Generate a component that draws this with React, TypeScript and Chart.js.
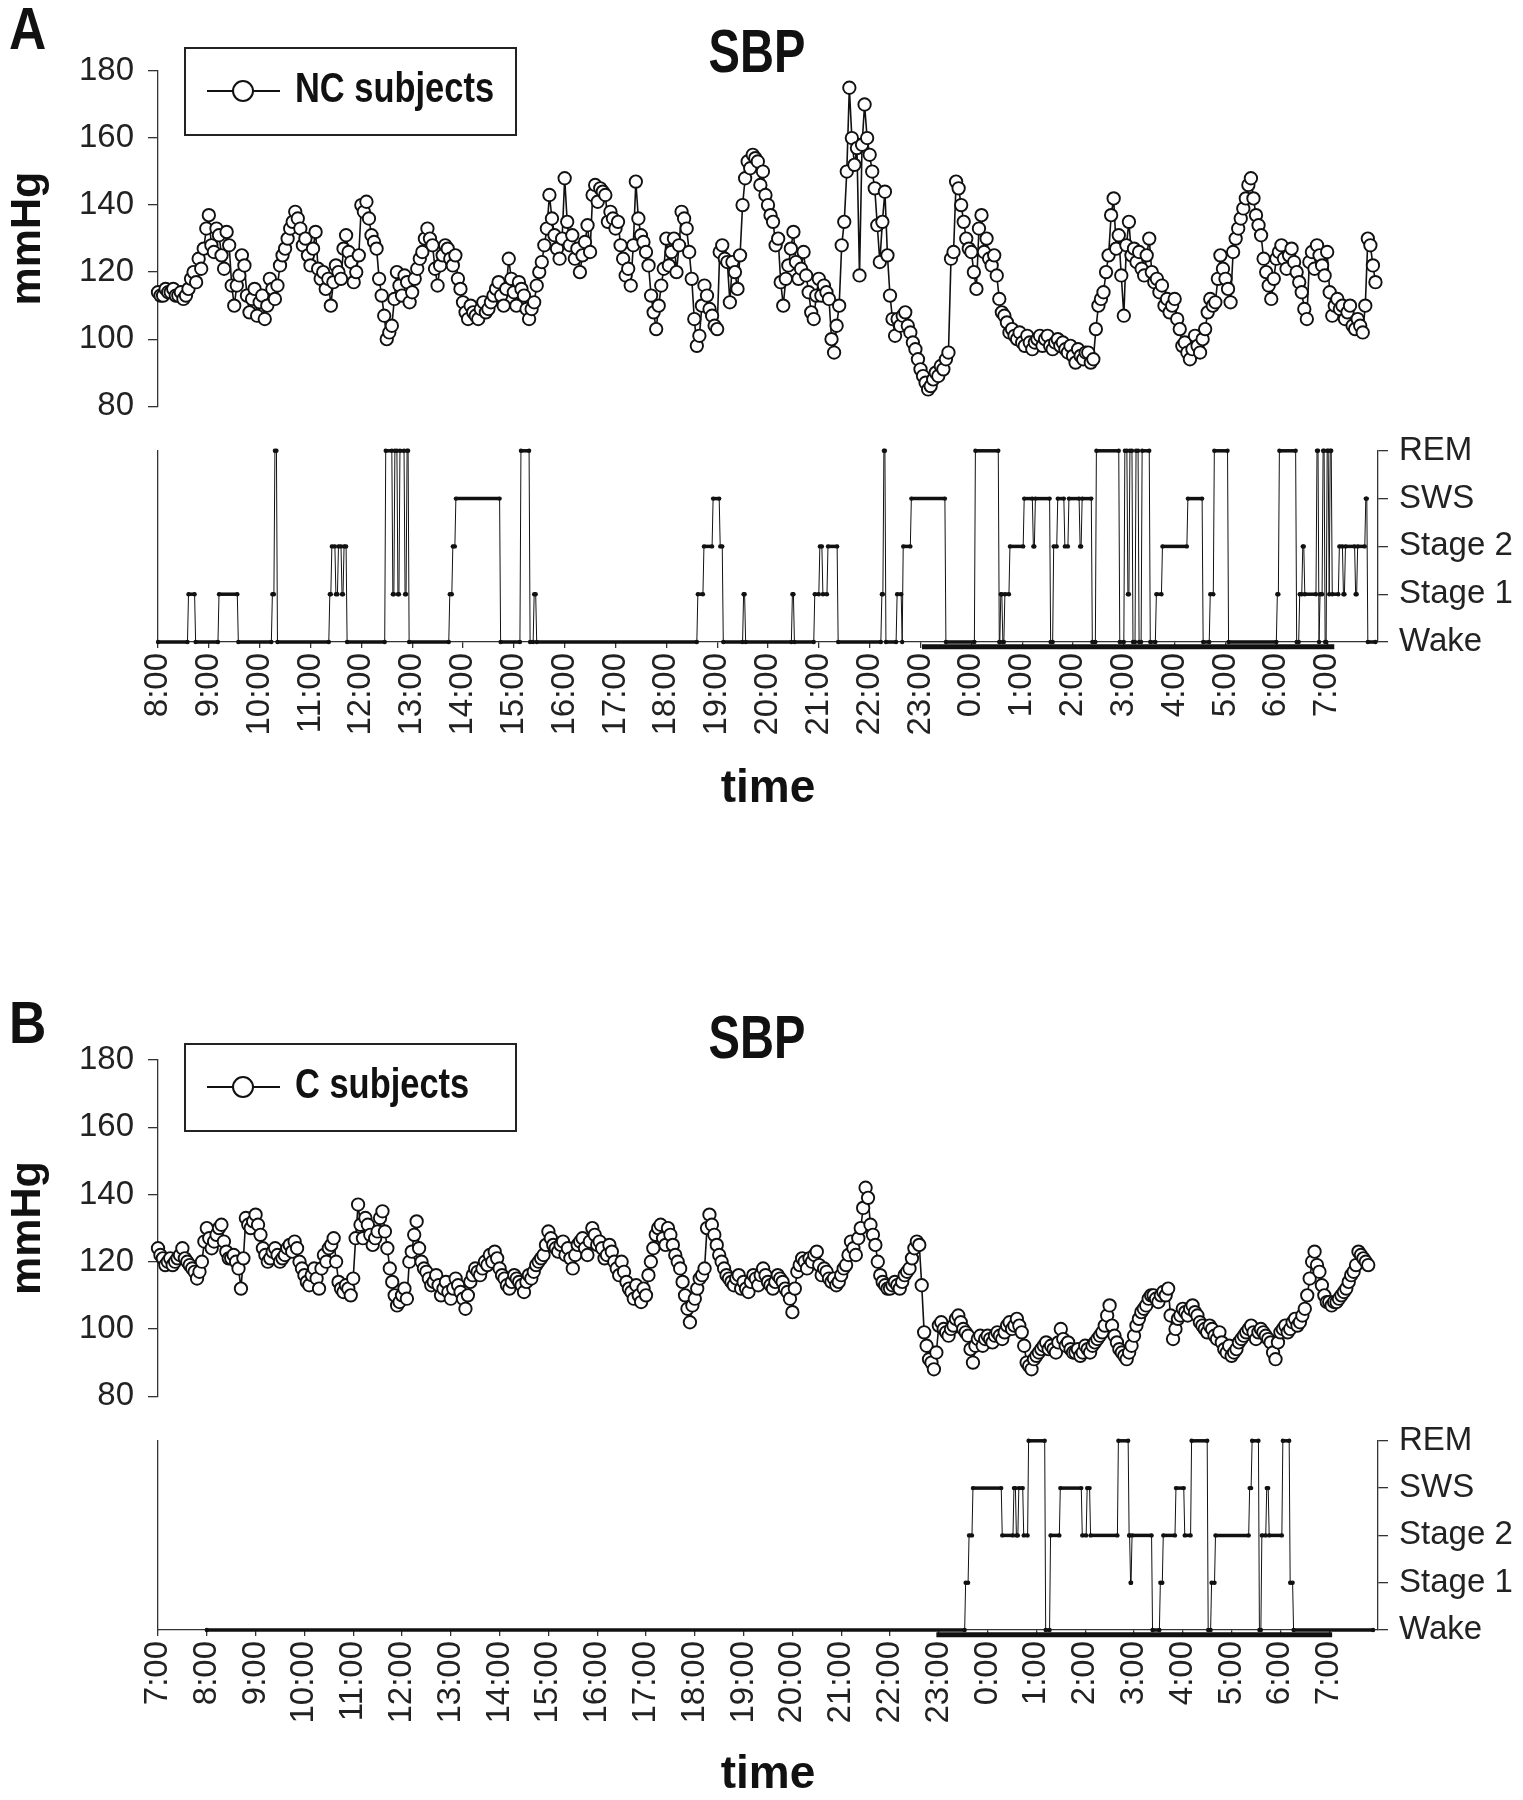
import React, { useEffect, useRef } from "react";
import { Chart, registerables } from "chart.js";

Chart.register(...registerables);

const W = 1523;
const LEFT = 158;
const RIGHT = 1378;
const FONT = "'Liberation Sans', Arial, sans-serif";
const NARROW = "'Liberation Sans Narrow', 'Arial Narrow', 'Liberation Sans', Arial, sans-serif";
const INK = "#111";
const AXIS = "#333";
const TEXT = "#222";

// sampling interval of the blood-pressure series (hours)
const STEP = 0.05;

// ---------- Panel A (NC subjects), time axis starts 8:00 ----------
const hoursA = ["8:00","9:00","10:00","11:00","12:00","13:00","14:00","15:00","16:00","17:00","18:00","19:00","20:00","21:00","22:00","23:00","0:00","1:00","2:00","3:00","4:00","5:00","6:00","7:00"];
const sbpA = [
  114,113,113,115,114,114,115,113,113,114,112,113,115,118,120,117,124,121,127,133,
  137,128,126,133,131,125,121,132,128,116,110,116,119,125,122,113,108,112,115,107,
  111,113,106,110,118,115,112,116,122,125,127,130,133,135,138,136,133,128,130,125,
  122,127,132,121,118,120,115,118,110,117,122,120,118,127,131,126,123,117,120,125,
  140,138,141,136,131,129,127,118,113,107,100,102,104,112,120,116,113,119,117,111,
  114,118,121,124,126,130,133,130,128,121,116,122,125,128,127,124,122,125,118,115,
  111,108,106,110,108,107,106,109,111,108,109,111,113,115,117,113,110,115,124,118,
  114,110,117,115,113,109,106,109,111,116,120,123,128,133,143,136,131,127,124,130,
  148,135,128,131,124,127,120,125,129,134,126,143,146,141,145,144,143,135,138,136,
  133,135,128,124,119,121,116,128,147,136,131,129,126,122,113,108,103,110,116,121,
  130,122,126,130,120,128,138,136,133,126,118,106,98,101,110,116,113,109,107,104,
  103,126,128,124,123,111,123,120,115,125,140,148,153,151,155,154,153,146,150,143,
  140,137,135,128,130,117,110,118,122,127,132,123,118,121,126,119,114,108,106,113,
  118,113,116,114,112,100,96,104,110,128,135,150,175,160,152,157,119,158,170,160,
  155,150,145,134,123,135,144,125,113,106,101,106,104,107,108,104,102,99,97,94,
  91,89,87,85,86,88,90,89,92,91,94,96,124,126,147,145,140,135,130,127,
  126,120,115,133,137,126,130,124,122,125,119,112,108,107,105,102,103,101,100,102,
  99,98,101,99,97,99,100,101,98,100,101,98,97,99,100,98,99,97,96,98,
  95,93,97,95,94,96,96,93,94,103,110,112,114,120,125,137,142,127,131,119,
  107,128,135,125,127,123,126,121,119,125,130,120,117,118,114,116,110,112,108,110,
  112,106,103,98,99,96,94,97,101,98,96,100,103,108,112,110,111,118,125,121,
  118,115,111,126,130,133,136,139,142,146,148,142,137,134,131,124,120,116,112,118,
  124,126,128,124,121,125,127,123,120,117,114,109,106,123,126,121,128,125,122,119,
  126,114,107,110,112,109,110,106,108,110,104,103,106,104,102,110,130,128,122,117,
];
// sleep stage: 0 Wake, 1 Stage 1, 2 Stage 2, 3 SWS, 4 REM ; times = hours after 8:00
const sleepTimesA = [0,0.60,0.74,1.20,1.58,2.25,2.30,2.35,3.38,3.42,3.50,3.55,3.62,3.66,3.72,4.48,4.62,4.66,4.72,4.76,4.86,4.90,4.94,5.74,5.80,5.86,6.74,7.14,7.32,7.40,7.45,10.62,10.74,10.92,11.06,11.12,11.52,11.56,12.48,12.52,12.92,13.02,13.08,13.18,13.38,14.24,14.28,14.32,14.54,14.64,14.66,14.82,15.50,16.08,16.55,16.58,16.62,16.66,16.76,17.04,17.22,17.26,17.56,17.62,17.70,17.84,17.92,18.14,18.18,18.38,18.46,18.92,19.02,19.08,19.12,19.18,19.24,19.30,19.36,19.52,19.64,19.76,20.26,20.56,20.70,20.78,21.06,22.02,22.06,22.40,22.46,22.52,22.56,22.80,22.84,22.86,22.92,22.96,23.00,23.04,23.06,23.10,23.24,23.32,23.36,23.56,23.60,23.76,23.80];
const sleepStagesA = [0,1,0,1,0,1,4,0,1,2,1,2,1,2,0,4,1,4,1,4,1,4,0,1,2,3,0,4,0,1,0,1,2,3,2,0,1,0,1,0,1,2,1,2,0,1,4,0,1,0,2,3,0,4,0,1,0,1,2,3,2,3,0,2,3,2,3,2,3,0,4,0,4,1,4,0,4,0,4,0,1,2,3,0,1,4,0,1,4,0,1,2,1,4,0,1,4,0,4,1,4,1,2,1,2,1,2,3,0];
const sleepEndA = 23.95;
const lightsOffA = [15.03, 23.14];

// ---------- Panel B (C subjects), time axis starts 7:00 ----------
const hoursB = ["7:00","8:00","9:00","10:00","11:00","12:00","13:00","14:00","15:00","16:00","17:00","18:00","19:00","20:00","21:00","22:00","23:00","0:00","1:00","2:00","3:00","4:00","5:00","6:00","7:00"];
const sbpB = [
  124,122,121,119,120,121,119,120,121,122,124,121,120,119,118,117,115,117,120,126,
  130,127,124,126,128,130,131,126,123,121,121,122,120,118,112,121,133,131,130,132,
  134,131,128,124,122,120,121,123,124,122,120,121,122,124,125,123,126,124,120,118,
  116,114,113,116,118,115,112,118,122,120,124,125,127,120,114,112,111,113,112,110,
  115,127,137,131,127,133,131,128,125,127,129,133,135,129,124,118,114,110,107,108,
  110,112,109,120,123,128,132,124,120,118,117,115,113,114,116,113,110,112,114,111,
  109,112,115,113,111,109,106,110,114,116,118,117,116,118,120,119,122,120,123,121,
  118,116,115,113,112,114,116,115,114,113,111,114,116,115,117,119,120,121,122,125,
  129,127,125,124,123,125,126,122,124,121,118,122,125,126,127,124,122,126,130,128,
  125,126,124,121,122,125,123,120,118,116,120,117,114,112,111,109,113,110,108,112,
  110,116,120,124,128,130,131,127,125,130,128,125,122,120,118,114,110,106,102,107,
  109,112,115,116,118,130,134,131,128,125,122,120,118,116,115,114,113,115,116,112,
  114,112,111,114,116,115,113,116,118,116,114,113,112,114,116,115,114,112,111,109,
  105,112,117,119,121,120,118,121,120,122,123,119,116,118,117,115,114,115,113,114,
  116,118,119,122,126,124,122,127,130,136,142,139,131,128,125,120,116,114,113,112,
  112,113,114,113,112,114,116,117,118,121,124,126,125,113,99,95,91,90,88,93,
  101,102,100,99,98,100,101,103,104,102,100,99,98,94,90,95,97,98,95,97,
  98,97,96,98,99,98,97,99,101,102,100,101,103,101,99,95,90,89,88,91,
  92,93,94,95,96,94,95,94,93,96,100,97,95,96,94,93,93,94,92,93,
  95,94,93,95,96,97,98,99,101,104,107,101,98,96,94,93,92,91,93,95,
  98,101,103,105,106,107,109,110,110,109,108,110,111,110,112,104,97,100,103,104,
  106,105,104,106,107,105,104,102,101,100,99,101,100,98,97,99,96,94,93,95,
  92,93,94,96,97,98,99,100,101,99,97,99,100,99,98,97,96,93,91,96,
  99,100,101,99,100,102,103,101,102,104,106,110,115,120,123,119,117,113,110,108,
  108,107,108,108,109,110,111,112,114,116,117,119,123,122,121,120,119,
];
const sleepTimesB = [1.0,16.55,16.62,16.70,17.30,17.54,17.59,17.64,17.74,17.84,18.19,18.29,18.49,18.94,19.04,19.11,19.68,19.90,19.93,19.96,20.38,20.54,20.60,20.86,21.04,21.18,21.52,21.59,21.67,22.37,22.42,22.57,22.62,22.72,22.77,23.05,23.20,23.27];
const sleepStagesB = [0,1,2,3,2,3,2,3,2,4,0,2,3,2,3,2,4,2,1,2,0,1,2,3,2,4,0,1,2,3,4,0,2,3,2,4,1,0];
const sleepEndB = 24.9;
const lightsOffB = [15.95, 24.06];

const stageLabels = ["Wake", "Stage 1", "Stage 2", "SWS", "REM"];

// build hypnogram points: each stage held until the next change
function hypnoPoints(times: number[], stages: number[], end: number) {
  const pts: { x: number; y: number }[] = [];
  for (let i = 0; i < times.length; i++) {
    const stop = i + 1 < times.length ? times[i + 1] - 0.02 : end;
    pts.push({ x: times[i], y: stages[i] });
    if (stop > times[i]) pts.push({ x: stop, y: stages[i] });
  }
  return pts;
}

function bpConfig(values: number[], xMax: number, canvasH: number, areaTop: number, areaBottom: number) {
  return {
    type: "line",
    data: {
      datasets: [
        {
          data: values.map((v, i) => ({ x: i * STEP, y: v })),
          borderColor: INK,
          borderWidth: 1.6,
          pointRadius: 6.2,
          pointBorderWidth: 1.9,
          pointBackgroundColor: "#fff",
          pointBorderColor: INK,
          tension: 0,
          clip: false,
        },
      ],
    },
    options: {
      responsive: false,
      animation: false,
      events: [],
      layout: { autoPadding: false, padding: { left: 0, right: W - RIGHT, top: areaTop, bottom: canvasH - areaBottom } },
      plugins: { legend: { display: false }, tooltip: { enabled: false }, title: { display: false } },
      scales: {
        x: { type: "linear", display: false, min: 0, max: xMax },
        y: {
          type: "linear",
          position: "left",
          min: 80,
          max: 180,
          afterFit: (s: any) => { s.width = LEFT; },
          ticks: { stepSize: 20, font: { family: NARROW, size: 33 }, color: TEXT, padding: 14 },
          grid: { drawOnChartArea: false, drawTicks: true, tickLength: 10, color: AXIS, lineWidth: 1.3 },
          border: { display: true, color: AXIS, width: 1.3 },
          title: { display: true, text: "mmHg", color: INK, font: { family: NARROW, size: 43, weight: "bold", lineHeight: 1 }, padding: { top: 7, bottom: 0 } },
        },
      },
    },
  };
}

function sleepConfig(times: number[], stages: number[], end: number, lights: number[], hourLabels: string[], xMax: number, canvasH: number, areaTop: number, areaBottom: number, titlePad: number) {
  return {
    type: "line",
    data: {
      datasets: [
        {
          data: hypnoPoints(times, stages, end),
          borderColor: INK,
          borderWidth: 1,
          segment: { borderWidth: (c: any) => (c.p0.parsed.y === c.p1.parsed.y ? 3.5 : 1) },
          pointRadius: 2.2,
          pointBorderWidth: 0,
          pointBackgroundColor: INK,
          tension: 0,
          clip: false,
          yAxisID: "y",
        },
        {
          data: [{ x: lights[0], y: -0.1 }, { x: lights[1], y: -0.1 }],
          borderColor: INK,
          borderWidth: 5,
          pointRadius: 0,
          clip: false,
          yAxisID: "y",
        },
      ],
    },
    options: {
      responsive: false,
      animation: false,
      events: [],
      layout: { autoPadding: false, padding: { left: 0, right: 0, top: areaTop, bottom: 0 } },
      plugins: { legend: { display: false }, tooltip: { enabled: false }, title: { display: false } },
      scales: {
        x: {
          type: "linear",
          min: 0,
          max: xMax,
          afterFit: (s: any) => { s.height = canvasH - areaBottom; },
          afterBuildTicks: (s: any) => { s.ticks = hourLabels.map((_, i) => ({ value: i })); },
          ticks: { autoSkip: false, minRotation: 90, maxRotation: 90, padding: 5, font: { family: NARROW, size: 33 }, color: TEXT, callback: (v: any) => hourLabels[v] ?? "" },
          grid: { drawOnChartArea: false, drawTicks: true, tickLength: 6, color: AXIS, lineWidth: 1.3 },
          border: { display: true, color: AXIS, width: 1.3 },
          title: { display: true, text: "time", color: INK, font: { family: NARROW, size: 46, weight: "bold", lineHeight: 1 }, padding: { top: 0, bottom: titlePad } },
        },
        yl: {
          type: "linear",
          position: "left",
          min: 0,
          max: 4,
          afterFit: (s: any) => { s.width = LEFT; },
          ticks: { display: false },
          grid: { drawOnChartArea: false, drawTicks: false },
          border: { display: true, color: AXIS, width: 1.3 },
        },
        y: {
          type: "linear",
          position: "right",
          min: 0,
          max: 4,
          afterFit: (s: any) => { s.width = W - RIGHT; },
          afterBuildTicks: (s: any) => { s.ticks = stageLabels.map((_, i) => ({ value: i })); },
          ticks: { font: { family: FONT, size: 33 }, color: TEXT, padding: 11, callback: (v: any) => stageLabels[v] ?? "" },
          grid: { drawOnChartArea: false, drawTicks: true, tickLength: 10, color: AXIS, lineWidth: 1.3 },
          border: { display: true, color: AXIS, width: 1.3 },
        },
      },
    },
  };
}

function ChartCanvas({ top, height, config }: { top: number; height: number; config: any }) {
  const ref = useRef<HTMLCanvasElement>(null);
  useEffect(() => {
    const chart = new Chart(ref.current as HTMLCanvasElement, config);
    return () => chart.destroy();
  }, []);
  return <canvas ref={ref} width={W} height={height} style={{ position: "absolute", left: 0, top, width: W, height }} />;
}

function Txt({ x, baseline, size, text, scaleX = 1, center = false }: { x: number; baseline: number; size: number; text: string; scaleX?: number; center?: boolean }) {
  const top = baseline - 0.8465 * size;
  return (
    <div
      style={{
        position: "absolute",
        left: x,
        top,
        fontFamily: FONT,
        fontSize: size,
        fontWeight: "bold",
        lineHeight: `${size}px`,
        whiteSpace: "nowrap",
        color: INK,
        transform: center ? `translateX(-50%) scaleX(${scaleX})` : `scaleX(${scaleX})`,
        transformOrigin: center ? "center" : "left",
      }}
    >
      {text}
    </div>
  );
}

function Legend({ top, label }: { top: number; label: string }) {
  const cy = top + 44;
  return (
    <>
      <div style={{ position: "absolute", left: 184, top, width: 333, height: 89, border: "2.5px solid #222", boxSizing: "border-box" }} />
      <div style={{ position: "absolute", left: 207, top: cy - 1.25, width: 73, height: 2.5, background: INK }} />
      <div style={{ position: "absolute", left: 232, top: cy - 11, width: 22, height: 22, border: "2.5px solid #111", borderRadius: "50%", background: "#fff", boxSizing: "border-box" }} />
      <Txt x={295} baseline={top + 56} size={42} text={label} scaleX={0.82} />
    </>
  );
}

export default function App() {
  const cfgBpA = bpConfig(sbpA, 24, 440, 71, 415);
  const cfgSleepA = sleepConfig(sleepTimesA, sleepStagesA, sleepEndA, lightsOffA, hoursA, 24, 400, 13, 222, 8);
  const cfgBpB = bpConfig(sbpB, 25, 440, 70, 418);
  const cfgSleepB = sleepConfig(sleepTimesB, sleepStagesB, sleepEndB, lightsOffB, hoursB, 25, 390, 13, 220, 2);
  return (
    <div style={{ position: "absolute", left: 0, top: 0, width: W, height: 1800, background: "#fff", overflow: "hidden" }}>
      <ChartCanvas top={0} height={440} config={cfgBpA} />
      <ChartCanvas top={420} height={400} config={cfgSleepA} />
      <ChartCanvas top={990} height={440} config={cfgBpB} />
      <ChartCanvas top={1410} height={390} config={cfgSleepB} />
      <Txt x={9} baseline={50} size={60} text="A" scaleX={0.86} />
      <Txt x={757} baseline={72} size={62} text="SBP" scaleX={0.76} center />
      <Legend top={47} label="NC subjects" />
      <Txt x={9} baseline={1044} size={60} text="B" scaleX={0.86} />
      <Txt x={757} baseline={1058} size={62} text="SBP" scaleX={0.76} center />
      <Legend top={1043} label="C subjects" />
    </div>
  );
}
